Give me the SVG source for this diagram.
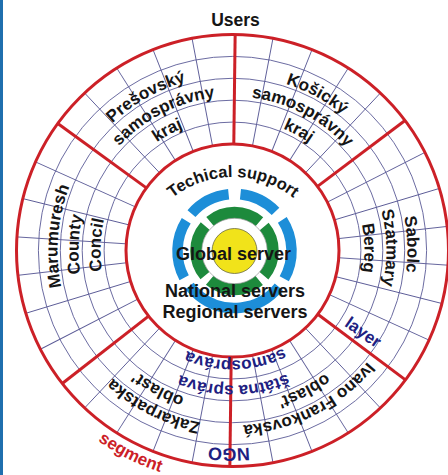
<svg xmlns="http://www.w3.org/2000/svg" xmlns:xlink="http://www.w3.org/1999/xlink" width="448" height="475" viewBox="0 0 448 475">
<style>
.red{stroke:#cc2027;stroke-width:3;fill:none}
.thin{stroke:#5a5a96;stroke-width:0.9;fill:none}
.t{font-family:"Liberation Sans",Arial,sans-serif;font-weight:bold;font-size:17px;fill:#151515}
.navy{fill:#1f1f82}
.rt{fill:#cc2027}
.blue{stroke:#1d8ed8;stroke-width:10.5;fill:none}
.green{stroke:#1d8a3c;stroke-width:11.5;fill:none}
</style>
<defs>
<line id="rad" class="thin" x1="106.5" y1="0" x2="216" y2="0"/>
<line id="div" class="red" x1="106.5" y1="0" x2="216" y2="0"/>
<path id="a175" d="M-172.34,-30.38 A175,175 0 0 1 172.34,-30.38"/>
<path id="a154" d="M-151.66,-26.73 A154,154 0 0 1 151.66,-26.73"/>
<path id="a132" d="M-130,-22.92 A132,132 0 0 1 130,-22.92"/>
<path id="a135" d="M-132.95,-23.44 A135,135 0 0 1 132.95,-23.44"/>
<path id="a110" d="M-108.33,-19.1 A110,110 0 0 1 108.33,-19.1"/>
<path id="a198" d="M-194.99,-34.37 A198,198 0 0 1 194.99,-34.37"/>
<path id="a98" d="M-96.51,-17.02 A98,98 0 0 1 96.51,-17.02"/>
<path id="c233" d="M229.46,-40.46 A233,233 0 0 0 -229.46,-40.46"/>
</defs>
<rect x="0" y="0" width="448" height="475" fill="#fff"/>
<rect x="0" y="0" width="3" height="475" fill="#1f6fae"/>

<g id="grid">
<circle class="thin" cx="232.5" cy="250.5" r="128.4"/>
<circle class="thin" cx="232.5" cy="250.5" r="150.3"/>
<circle class="thin" cx="232.5" cy="250.5" r="172.2"/>
<circle class="thin" cx="232.5" cy="250.5" r="194.1"/>
<g transform="translate(232.5 250.5)">
<use href="#rad" transform="rotate(226.8)"/><use href="#rad" transform="rotate(237.6)"/><use href="#rad" transform="rotate(248.4)"/><use href="#rad" transform="rotate(259.2)"/>
<use href="#rad" transform="rotate(280.8)"/><use href="#rad" transform="rotate(291.6)"/><use href="#rad" transform="rotate(302.4)"/><use href="#rad" transform="rotate(313.2)"/>
<use href="#rad" transform="rotate(333)"/><use href="#rad" transform="rotate(343.3)"/><use href="#rad" transform="rotate(353.6)"/><use href="#rad" transform="rotate(3.9)"/><use href="#rad" transform="rotate(14.2)"/><use href="#rad" transform="rotate(24.5)"/>
<use href="#rad" transform="rotate(46.8)"/><use href="#rad" transform="rotate(57.6)"/><use href="#rad" transform="rotate(68.4)"/><use href="#rad" transform="rotate(79.2)"/>
<use href="#rad" transform="rotate(100.8)"/><use href="#rad" transform="rotate(111.6)"/><use href="#rad" transform="rotate(122.4)"/><use href="#rad" transform="rotate(133.2)"/>
<use href="#rad" transform="rotate(152.8)"/><use href="#rad" transform="rotate(163.1)"/><use href="#rad" transform="rotate(173.4)"/><use href="#rad" transform="rotate(183.6)"/><use href="#rad" transform="rotate(193.9)"/><use href="#rad" transform="rotate(204.2)"/>
</g>
<circle class="red" cx="232.5" cy="250.5" r="106.5"/>
<circle class="red" cx="232.5" cy="250.5" r="216"/>
</g>

<g id="connectors" transform="translate(232.5 250.5)">
<use href="#div" transform="rotate(270.7)"/>
<use href="#div" transform="rotate(323)"/>
<use href="#div" transform="rotate(36.8)"/>
<use href="#div" transform="rotate(90.7)"/>
<use href="#div" transform="rotate(142)"/>
<use href="#div" transform="rotate(216)"/>
</g>

<g id="users"><text class="t" x="235.5" y="26" text-anchor="middle" style="font-size:17.5px">Users</text></g>

<g id="presov" transform="translate(232.5 250.5)">
<text class="t" text-anchor="middle" transform="rotate(-29.4)"><textPath href="#a175" startOffset="50%">Prešovský</textPath></text>
<text class="t" text-anchor="middle" transform="rotate(-27)"><textPath href="#a154" startOffset="50%">samosprávny</textPath></text>
<text class="t" text-anchor="middle" transform="rotate(-28.5)"><textPath href="#a132" startOffset="50%">kraj</textPath></text>
</g>

<g id="kosice" transform="translate(232.5 250.5)">
<text class="t" text-anchor="middle" transform="rotate(28.4)"><textPath href="#a175" startOffset="50%">Košický</textPath></text>
<text class="t" text-anchor="middle" transform="rotate(27.5)"><textPath href="#a154" startOffset="50%">samosprávny</textPath></text>
<text class="t" text-anchor="middle" transform="rotate(29)"><textPath href="#a132" startOffset="50%">kraj</textPath></text>
</g>

<g id="sabolc" transform="translate(232.5 250.5)">
<text class="t" text-anchor="middle" transform="rotate(88)"><textPath href="#a175" startOffset="50%">Sabolc</textPath></text>
<text class="t" text-anchor="middle" transform="rotate(89)"><textPath href="#a154" startOffset="50%">Szatmary</textPath></text>
<text class="t" text-anchor="middle" transform="rotate(89)"><textPath href="#a132" startOffset="50%">Bereg</textPath></text>
</g>

<g id="maramures" transform="translate(232.5 250.5)">
<text class="t" text-anchor="middle" transform="rotate(-85.3)"><textPath href="#a175" startOffset="50%">Marumuresh</textPath></text>
<text class="t" text-anchor="middle" transform="rotate(-87.8)"><textPath href="#a154" startOffset="50%">County</textPath></text>
<text class="t" text-anchor="middle" transform="rotate(-87.7)"><textPath href="#a132" startOffset="50%">Concil</textPath></text>
</g>

<g id="zakarpatska" transform="translate(232.5 250.5)">
<text class="t" text-anchor="middle" transform="rotate(-153.2)"><textPath href="#a175" startOffset="50%">Zakarpatska</textPath></text>
<text class="t" text-anchor="middle" transform="rotate(-151.8)"><textPath href="#a154" startOffset="50%">oblast'</textPath></text>
</g>

<g id="ivano" transform="translate(232.5 250.5)">
<text class="t" text-anchor="middle" transform="rotate(153)"><textPath href="#a175" startOffset="50%">Ivano Frankovská</textPath></text>
<text class="t" text-anchor="middle" transform="rotate(152.9)"><textPath href="#a154" startOffset="50%">oblast'</textPath></text>
</g>

<g id="ngo-state" transform="translate(232.5 250.5)">
<text class="t navy" text-anchor="middle" transform="rotate(178.4)"><textPath href="#a110" startOffset="50%">samospráva</textPath></text>
<text class="t navy" text-anchor="middle" transform="rotate(179.5)"><textPath href="#a135" startOffset="50%">štátna správa</textPath></text>
<text class="t navy" text-anchor="middle" transform="rotate(181)" style="font-size:18px"><textPath href="#a198" startOffset="50%">NGO</textPath></text>
</g>

<g id="segment-label" transform="translate(232.5 250.5)">
<text class="t rt" text-anchor="middle" transform="rotate(-153.3)"><textPath href="#c233" startOffset="50%">segment</textPath></text>
</g>

<g id="layer-label"><text class="t navy" text-anchor="middle" transform="translate(360 337) rotate(35)">layer</text></g>

<g id="servers">
<g transform="translate(234.5 251)">
<circle class="blue" r="57" stroke-dasharray="42.8 400" transform="rotate(221)"/>
<circle class="blue" r="57" stroke-dasharray="39.8 400" transform="rotate(276)"/>
<circle class="blue" r="57" stroke-dasharray="61.7 400" transform="rotate(327)"/>
<circle class="blue" r="57" stroke-dasharray="102.5 400" transform="rotate(39)"/>
<circle class="blue" r="57" stroke-dasharray="59.7 400" transform="rotate(152)"/>
<circle class="green" r="38.5" stroke-dasharray="53.75 6.72" stroke-dashoffset="26.88"/>
<circle r="32.75" fill="none" stroke="#9a9a9a" stroke-width="0.7"/>
<circle r="22.5" fill="#f1e31a" stroke="#6a6a3a" stroke-width="0.8"/>
</g>
<g transform="translate(233 275)">
<text class="t" text-anchor="middle" style="font-size:16.5px"><textPath href="#a98" startOffset="50%">Techical support</textPath></text>
</g>
<text class="t" x="233.5" y="260" text-anchor="middle" style="font-size:18px">Global server</text>
<text class="t" x="235" y="297" text-anchor="middle" style="font-size:18px">National servers</text>
<text class="t" x="235" y="318" text-anchor="middle" style="font-size:18px">Regional servers</text>
</g>
</svg>
